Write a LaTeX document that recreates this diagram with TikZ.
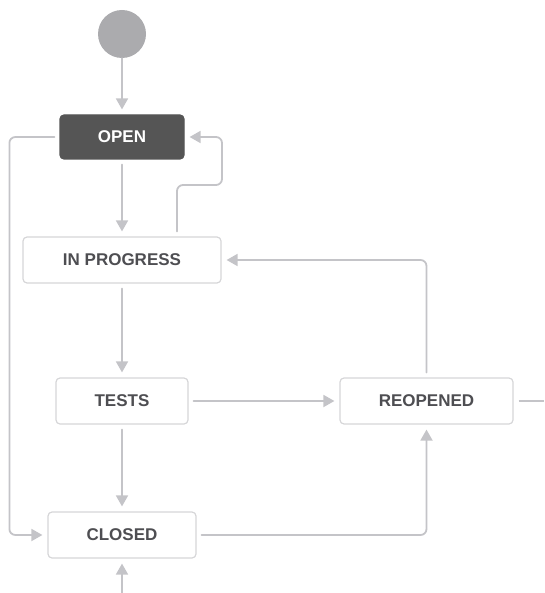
\documentclass[tikz,border=0pt]{standalone}
\usepackage{fontspec}
\setmainfont{Liberation Sans}
\usetikzlibrary{arrows.meta}
\definecolor{linegray}{HTML}{C4C4C8}
\definecolor{boxgray}{HTML}{D6D6D8}
\definecolor{textgray}{HTML}{4E4E52}
\definecolor{opengray}{HTML}{555555}
\definecolor{dotgray}{HTML}{ABABAE}
\begin{document}
\begin{tikzpicture}[x=1pt, y=-1pt, line cap=round, line join=round,
	font=\fontsize{17}{19}\selectfont\bfseries,
	state/.style={draw=boxgray, line width=1.2pt, rounded corners=4pt, fill=white,
		text=textgray, minimum height=46pt, inner sep=0pt},
	flow/.style={draw=linegray, line width=1.8pt, rounded corners=6pt,
		-{Triangle[width=12pt,length=11pt]}, shorten >=5pt, shorten <=5pt},
	plain/.style={draw=linegray, line width=1.8pt, line cap=butt, shorten <=5pt}]
	\useasboundingbox (0,0) rectangle (544,593);
	\node[circle, fill=dotgray, minimum size=48pt, inner sep=0pt] (start) at (122,34) {};
	\node[state, draw=opengray, fill=opengray, text=white, minimum width=124pt, minimum height=44pt] (open) at (122,137) {OPEN};
	\node[state, minimum width=198pt] (inprog) at (122,260) {IN PROGRESS};
	\node[state, minimum width=132pt] (tests) at (122,401) {TESTS};
	\node[state, minimum width=148pt] (closed) at (122,535) {CLOSED};
	\node[state, minimum width=173pt] (reopened) at (426.5,401) {REOPENED};
	\coordinate (entry) at (122,593);
	\coordinate (exit) at (544,401);
	\draw[flow, shorten <=0pt] (start) -- (open);
	\draw[flow] (open) -- (inprog);
	\draw[flow] ([xshift=55pt]inprog.north) |- (222,185) |- (open.east);
	\draw[flow] (open.west) -| ([xshift=-38pt]closed.west) -- (closed.west);
	\draw[flow] (inprog) -- (tests);
	\draw[flow] (tests) -- (closed);
	\draw[flow] (tests) -- (reopened);
	\draw[flow] (closed.east) -| (reopened.south);
	\draw[flow] (reopened.north) |- (inprog.east);
	\draw[plain] (reopened.east) -- (exit);
	\draw[flow, shorten <=0pt] (entry) -- (closed.south);
\end{tikzpicture}
\end{document}
